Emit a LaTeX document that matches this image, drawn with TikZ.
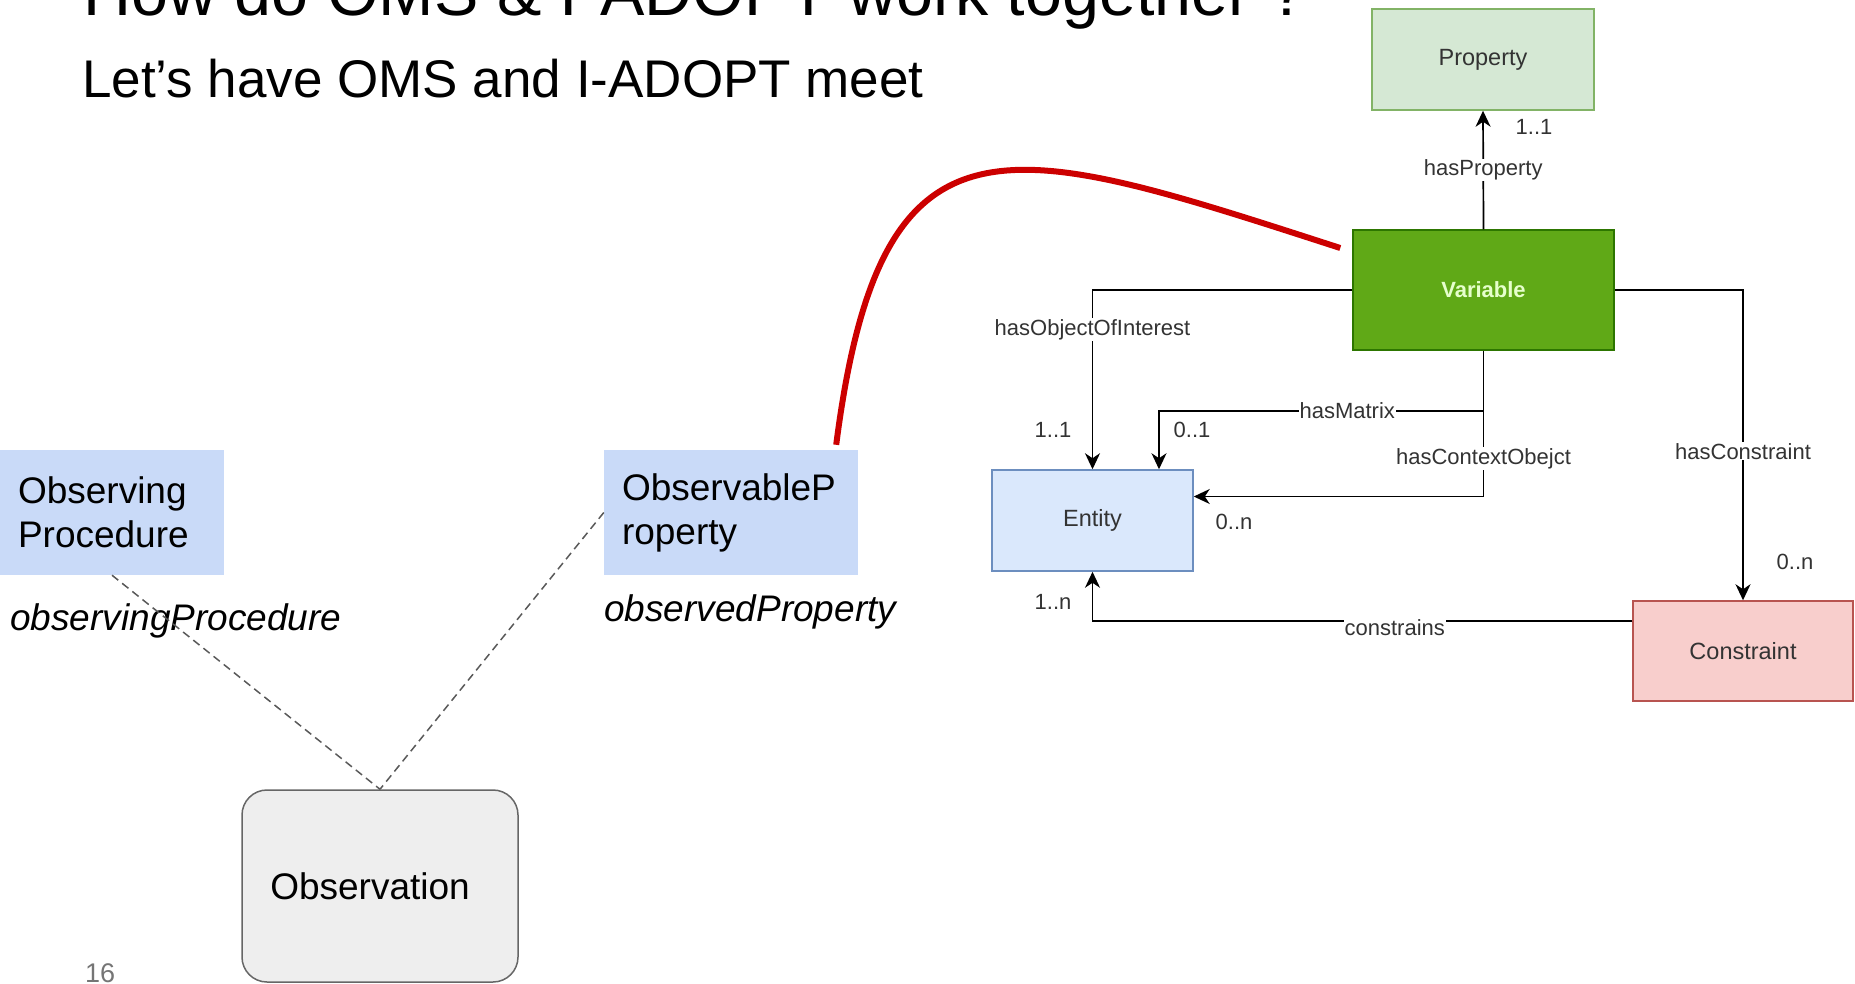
\documentclass[tikz,border=0pt]{standalone}
\usepackage{fontspec}
\setmainfont{Liberation Sans}
\usetikzlibrary{arrows.meta}
\definecolor{slideblue}{HTML}{C9DAF8}
\definecolor{obsfill}{HTML}{EEEEEE}
\definecolor{obsdraw}{HTML}{666666}
\definecolor{dashgray}{HTML}{595959}
\definecolor{propfill}{HTML}{D5E8D4}
\definecolor{propdraw}{HTML}{82B366}
\definecolor{varfill}{HTML}{60A917}
\definecolor{vardraw}{HTML}{2D7600}
\definecolor{vartext}{HTML}{E6FFCC}
\definecolor{entfill}{HTML}{DAE8FC}
\definecolor{entdraw}{HTML}{6C8EBF}
\definecolor{consfill}{HTML}{F8CECC}
\definecolor{consdraw}{HTML}{B85450}
\definecolor{umltext}{HTML}{333333}
\definecolor{alertred}{HTML}{CC0000}
\definecolor{pagegray}{HTML}{757575}
\begin{document}
\begin{tikzpicture}[x=1pt, y=-1pt, >={Stealth[length=16pt,width=15pt,inset=5pt]},
	slidebox/.style={fill=slideblue, minimum height=125pt, inner xsep=18pt, text width=#1, align=left, font=\fontsize{37}{44}\selectfont},
	rolelabel/.style={anchor=west, inner sep=0pt, font=\fontsize{37}{44}\selectfont\itshape},
	umlbox/.style={draw, line width=1.5pt, text=umltext, font=\fontsize{23.5}{28}\selectfont},
	elabel/.style={fill=white, inner sep=1pt, text=umltext, font=\fontsize{22}{26}\selectfont},
	mult/.style={inner sep=0pt, text=umltext, font=\fontsize{22}{26}\selectfont},
	link/.style={->, line width=1.7pt},
	obslink/.style={draw=dashgray, line width=1.5pt, dash pattern=on 8pt off 5pt},
	redlink/.style={draw=alertred, line width=6pt}]
	\clip (0,0) rectangle (1855,983);
	\node[anchor=base west, inner sep=0pt, font=\fontsize{66.5}{80}\selectfont] (title) at (83,15) {How do OMS \& I-ADOPT work together ?};
	\node[anchor=base west, inner sep=0pt, font=\fontsize{53}{64}\selectfont] (subtitle) at (82,97) {Let’s have OMS and I-ADOPT meet};
	\node[slidebox=188pt] (obsproc) at (112,512.5) {Observing\\Procedure};
	\node[slidebox=218pt] (obsprop) at (731,512.5) {ObservableP\\roperty};
	\node[rolelabel] (procrole) at (10,621) {observingProcedure};
	\node[rolelabel] (proprole) at (604,612) {observedProperty};
	\node[draw=obsdraw, fill=obsfill, line width=1.5pt, rounded corners=25pt, minimum width=276pt, minimum height=192pt, font=\fontsize{37}{44}\selectfont] (obs) at (380,886) {Observation\hspace*{20pt}};
	\draw[obslink] (obsproc.south) -- (obs.north);
	\draw[obslink] (obsprop.west) -- (obs.north);
	\node[anchor=base west, inner sep=0pt, text=pagegray, font=\fontsize{27}{32}\selectfont] (pagenum) at (85,982) {16};
	\node[umlbox, fill=propfill, draw=propdraw, minimum width=222pt, minimum height=101pt] (prop) at (1483,59.5) {Property};
	\node[umlbox, fill=varfill, draw=vardraw, minimum width=261pt, minimum height=120pt, text=vartext, font=\fontsize{22}{26}\selectfont\bfseries] (var) at (1483.5,290) {Variable};
	\node[umlbox, fill=entfill, draw=entdraw, minimum width=201pt, minimum height=101pt] (ent) at (1092.5,520.5) {Entity};
	\node[umlbox, fill=consfill, draw=consdraw, minimum width=220pt, minimum height=100pt] (cons) at (1743,651) {Constraint};
	\draw[link] (var.north) -- node[elabel]{hasProperty} (prop.south);
	\draw[link] (var.west) -| node[elabel, pos=0.61]{hasObjectOfInterest} (ent.north);
	\draw[link] (var.south) -- ++(0,60) -| node[elabel, pos=0.21]{hasMatrix} ([xshift=66.5pt]ent.north);
	\draw[link] (var.south) |- node[elabel, pos=0.37]{hasContextObejct} ([yshift=24pt]ent.east);
	\draw[link] (var.east) -| node[elabel, pos=0.76]{hasConstraint} (cons.north);
	\draw[link] ([yshift=30pt]cons.west) -| node[elabel, pos=0.22, yshift=-7pt]{constrains} (ent.south);
	\foreach \x/\y/\t [count=\i] in {1534/127/{1..1}, 1053/430/{1..1}, 1192/430/{0..1}, 1234/522/{0..n}, 1053/602/{1..n}, 1795/562/{0..n}}{
	\node[mult] (m\i) at (\x,\y) {\t};
	}
	\draw[redlink] ([xshift=-22pt,yshift=5pt]obsprop.north east) .. controls (881,95) and (1006,140) .. ([xshift=-12pt,yshift=42pt]var.west);
\end{tikzpicture}
\end{document}
